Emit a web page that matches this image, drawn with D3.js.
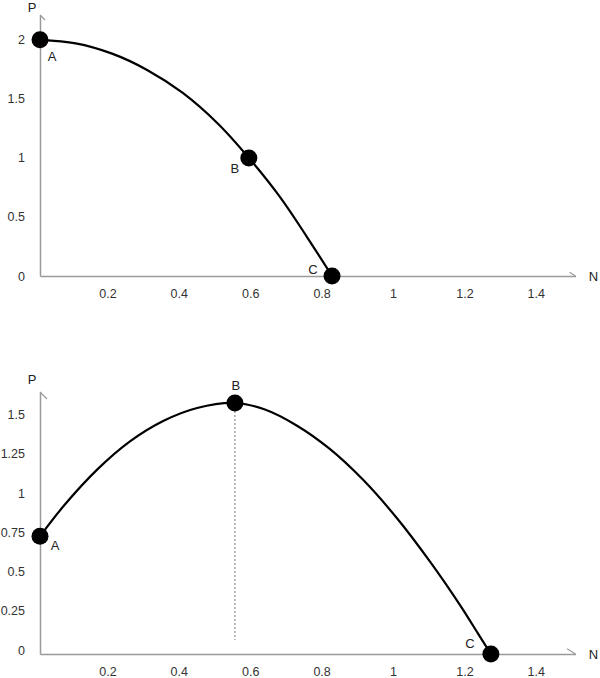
<!DOCTYPE html>
<html>
<head>
<meta charset="utf-8">
<script src="https://cdn.jsdelivr.net/npm/d3@7"></script>
<style>
  html, body { margin: 0; padding: 0; background: #fff; }
  svg { display: block; font-family: "Liberation Sans", Arial, sans-serif; }
</style>
</head>
<body>
<svg id="chart" width="600" height="678"></svg>
<script>
// ---- Data ----
const xTicks = [0.2, 0.4, 0.6, 0.8, 1, 1.2, 1.4];
const topYTicks = [0, 0.5, 1, 1.5, 2];
const botYTicks = [0, 0.25, 0.5, 0.75, 1, 1.25, 1.5];

// top curve (N, P)
const topN = [0, 0.1, 0.2, 0.3, 0.4, 0.5, 0.585, 0.672, 0.748, 0.818];
const topP = [2, 1.97, 1.885, 1.745, 1.55, 1.285, 1.0, 0.67, 0.33, 0];
const topLabels = ["A", "B", "C"];
const topPtN = [0, 0.585, 0.818];
const topPtP = [2, 1.0, 0];

// bottom curve (N, P)
const botN = [0, 0.065, 0.16, 0.252, 0.345, 0.44, 0.546, 0.63, 0.72, 0.81, 0.905, 1.0, 1.092, 1.177, 1.227, 1.263];
const botP = [0.75, 0.94, 1.175, 1.355, 1.485, 1.568, 1.6, 1.558, 1.455, 1.31, 1.11, 0.865, 0.59, 0.31, 0.13, 0];
const botLabels = ["A", "B", "C"];
const botPtN = [0, 0.546, 1.263];
const botPtP = [0.75, 1.6, 0];
const botDropN = 0.546, botDropTop = 1.6, botDropBottom = 0.09;

const svg = d3.select("#chart");

function panel(cfg) {
  const g = svg.append("g");
  const x = d3.scaleLinear().domain([0, 1.5]).range([40, 575.5]);
  const y = d3.scaleLinear().domain(cfg.yDomain).range(cfg.yRange);
  const axisColor = "#9a9a9a";

  // x axis
  const xa = g.append("g").attr("transform", `translate(0,${y(0)})`)
    .call(d3.axisBottom(x).tickValues(xTicks).tickSize(0).tickSizeOuter(0).tickPadding(13)
      .tickFormat(d3.format("~g")));
  xa.select(".domain").attr("stroke", axisColor).attr("stroke-width", 1.5);
  xa.selectAll("text").attr("font-size", 12.5).attr("fill", "#333").attr("dx", -4)
    .attr("font-family", "Liberation Sans, Arial, sans-serif");

  // y axis
  const ya = g.append("g").attr("transform", `translate(${x(0)},0)`)
    .call(d3.axisLeft(y).tickValues(cfg.yTicks).tickSize(0).tickSizeOuter(0).tickPadding(15)
      .tickFormat(d3.format("~g")));
  ya.select(".domain").attr("stroke", axisColor).attr("stroke-width", 1.5);
  ya.selectAll("text").attr("font-size", 12.5).attr("fill", "#333").attr("dy", (0.32 + cfg.yLabelShift / 12.5) + "em")
    .attr("font-family", "Liberation Sans, Arial, sans-serif");

  // half arrowheads
  const yTop = y(cfg.yDomain[1]);
  const xEnd = x(1.5);
  g.append("line").attr("x1", x(0)).attr("y1", yTop).attr("x2", x(0) + cfg.arrow).attr("y2", yTop + cfg.arrow)
    .attr("stroke", axisColor).attr("stroke-width", 1.2);
  g.append("line").attr("x1", xEnd).attr("y1", y(0)).attr("x2", xEnd - cfg.arrow * 1.2).attr("y2", y(0) - cfg.arrow * 0.75)
    .attr("stroke", axisColor).attr("stroke-width", 1.2);

  // axis names
  g.append("text").attr("x", x(0) - 8).attr("y", yTop - cfg.pOff).attr("dy", "0.36em").attr("text-anchor", "middle")
    .attr("font-size", 13).attr("fill", "#222").text("P");
  g.append("text").attr("x", xEnd + 18).attr("y", y(0) + 5).attr("text-anchor", "middle")
    .attr("font-size", 13).attr("fill", "#222").text("N");

  // dropline
  if (cfg.drop) {
    g.append("line").attr("x1", x(cfg.drop.n)).attr("x2", x(cfg.drop.n))
      .attr("y1", y(cfg.drop.top)).attr("y2", y(cfg.drop.bottom))
      .attr("stroke", "#777").attr("stroke-width", 1).attr("stroke-dasharray", "2,2");
  }

  // curve
  const pts = cfg.n.map((n, i) => [n, cfg.p[i]]);
  const line = d3.line().x(d => x(d[0])).y(d => y(d[1])).curve(d3.curveCatmullRom.alpha(0.5));
  g.append("path").attr("d", line(pts)).attr("fill", "none").attr("stroke", "#000").attr("stroke-width", 2.2);

  // points
  const mk = cfg.labels.map((l, i) => ({ l, n: cfg.ptN[i], p: cfg.ptP[i], off: cfg.offs[i] }));
  g.selectAll("circle.pt").data(mk).enter().append("circle")
    .attr("cx", d => x(d.n)).attr("cy", d => y(d.p)).attr("r", 8.5).attr("fill", "#000");
  g.selectAll("text.pl").data(mk).enter().append("text")
    .attr("x", d => x(d.n) + d.off[0]).attr("y", d => y(d.p) + d.off[1])
    .attr("text-anchor", "middle").attr("dy", "0.35em")
    .attr("font-size", 13).attr("fill", "#222").text(d => d.l);
}

panel({
  yDomain: [0, 2.21], yRange: [276, 15], yTicks: topYTicks, yLabelShift: 0, arrow: 5, pOff: 8,
  n: topN, p: topP, labels: topLabels, ptN: topPtN, ptP: topPtP,
  offs: [[12, 17], [-14, 11], [-19, -7]]
});

panel({
  yDomain: [0, 1.67], yRange: [654, 392], yTicks: botYTicks, yLabelShift: -4, arrow: 7, pOff: 13,
  n: botN, p: botP, labels: botLabels, ptN: botPtN, ptP: botPtP,
  drop: { n: botDropN, top: botDropTop, bottom: botDropBottom },
  offs: [[15, 9], [1, -18], [-21, -11]]
});
</script>
</body>
</html>
